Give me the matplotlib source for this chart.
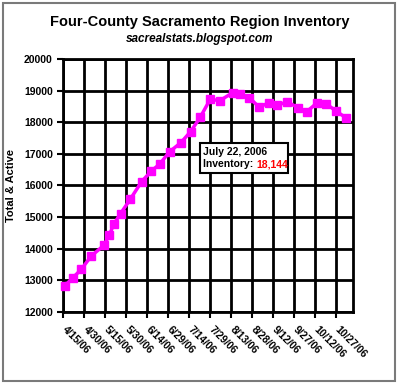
import matplotlib
matplotlib.use('Agg')
import matplotlib.pyplot as plt
from matplotlib.patches import Rectangle
from matplotlib.transforms import ScaledTranslation

# days since 4/15/06 and total active listings
days = [1, 7, 13, 20, 29, 33, 36, 41, 48, 56, 63, 69, 76, 84, 91, 98,
        105, 112, 121, 126, 133, 140, 147, 153, 160, 168, 174, 181, 188, 195, 202]
inventory = [12815, 13080, 13345, 13765, 14100, 14430, 14765, 15110, 15570, 16120,
             16460, 16680, 17070, 17355, 17705, 18170, 18730, 18690, 18940, 18885,
             18785, 18480, 18625, 18540, 18655, 18455, 18340, 18605, 18585, 18360, 18144]
tick_labels = ['4/15/06', '4/30/06', '5/15/06', '5/30/06', '6/14/06', '6/29/06', '7/14/06',
               '7/29/06', '8/13/06', '8/28/06', '9/12/06', '9/27/06', '10/12/06', '10/27/06']
ticks = [15 * i for i in range(len(tick_labels))]

plt.rcParams['font.family'] = ['Liberation Sans', 'DejaVu Sans']

fig = plt.figure(figsize=(4, 3.85), dpi=100)
fig.patch.set_facecolor('white')
ax = fig.add_axes([0.158, 0.1904, 0.7243, 0.6556])

# outer frame of the chart
fig.patches.append(Rectangle((3 / 400, 4 / 385), 392 / 400, 378 / 385, transform=fig.transFigure,
                             fill=False, edgecolor='#7a7a7a', linewidth=1.5))

ax.plot(days, inventory, color='#ff00ff', linewidth=2.5, marker='s', markersize=6,
        markeredgecolor='#ff00ff', zorder=3, clip_on=False)

ax.set_xlim(0, 207)
ax.set_ylim(12000, 20000)
ax.set_yticks(range(12000, 20001, 1000))
ax.set_xticks(ticks)
ax.set_xticklabels(tick_labels, rotation=-45, ha='left', va='top', rotation_mode='anchor')
ax.grid(True, color='black', linewidth=2)
ax.set_axisbelow(True)
for s in ax.spines.values():
    s.set_linewidth(2)
ax.tick_params(axis='both', length=4, width=1.5, labelsize=7.5)
ax.tick_params(axis='x', pad=5)
shift = ScaledTranslation(4 / 100, 0, fig.dpi_scale_trans)
for lab in ax.get_xticklabels():
    lab.set_fontweight('bold')
    lab.set_transform(lab.get_transform() + shift)
for lab in ax.get_yticklabels():
    lab.set_fontweight('bold')
ax.set_ylabel('Total & Active', fontsize=8, fontweight='bold', labelpad=6)

# title and subtitle
fig.text(0.5, 1 - 22 / 385, 'Four-County Sacramento Region Inventory', ha='center', va='center',
         fontsize=10.5, fontweight='bold')
fig.text(0.5, 1 - 39 / 385, 'sacrealstats.blogspot.com', ha='center', va='center',
         fontsize=8.5, fontweight='bold', style='italic')

# callout box
ax.add_patch(Rectangle((0.472, 0.548), 0.303, 0.119, transform=ax.transAxes,
                       facecolor='white', edgecolor='black', linewidth=1.5, zorder=4))
ax.text(0.482, 0.632, 'July 22, 2006', transform=ax.transAxes, fontsize=7.5,
        fontweight='bold', va='center', zorder=5)
t2 = ax.text(0.482, 0.585, 'Inventory: ', transform=ax.transAxes, fontsize=7.5,
             fontweight='bold', va='center', zorder=5)
ax.annotate('18,144', xy=(1, 0.5), xycoords=t2, va='center', fontsize=7.5,
            fontweight='bold', color='red', zorder=5)

fig.savefig('out.png', dpi=100)
